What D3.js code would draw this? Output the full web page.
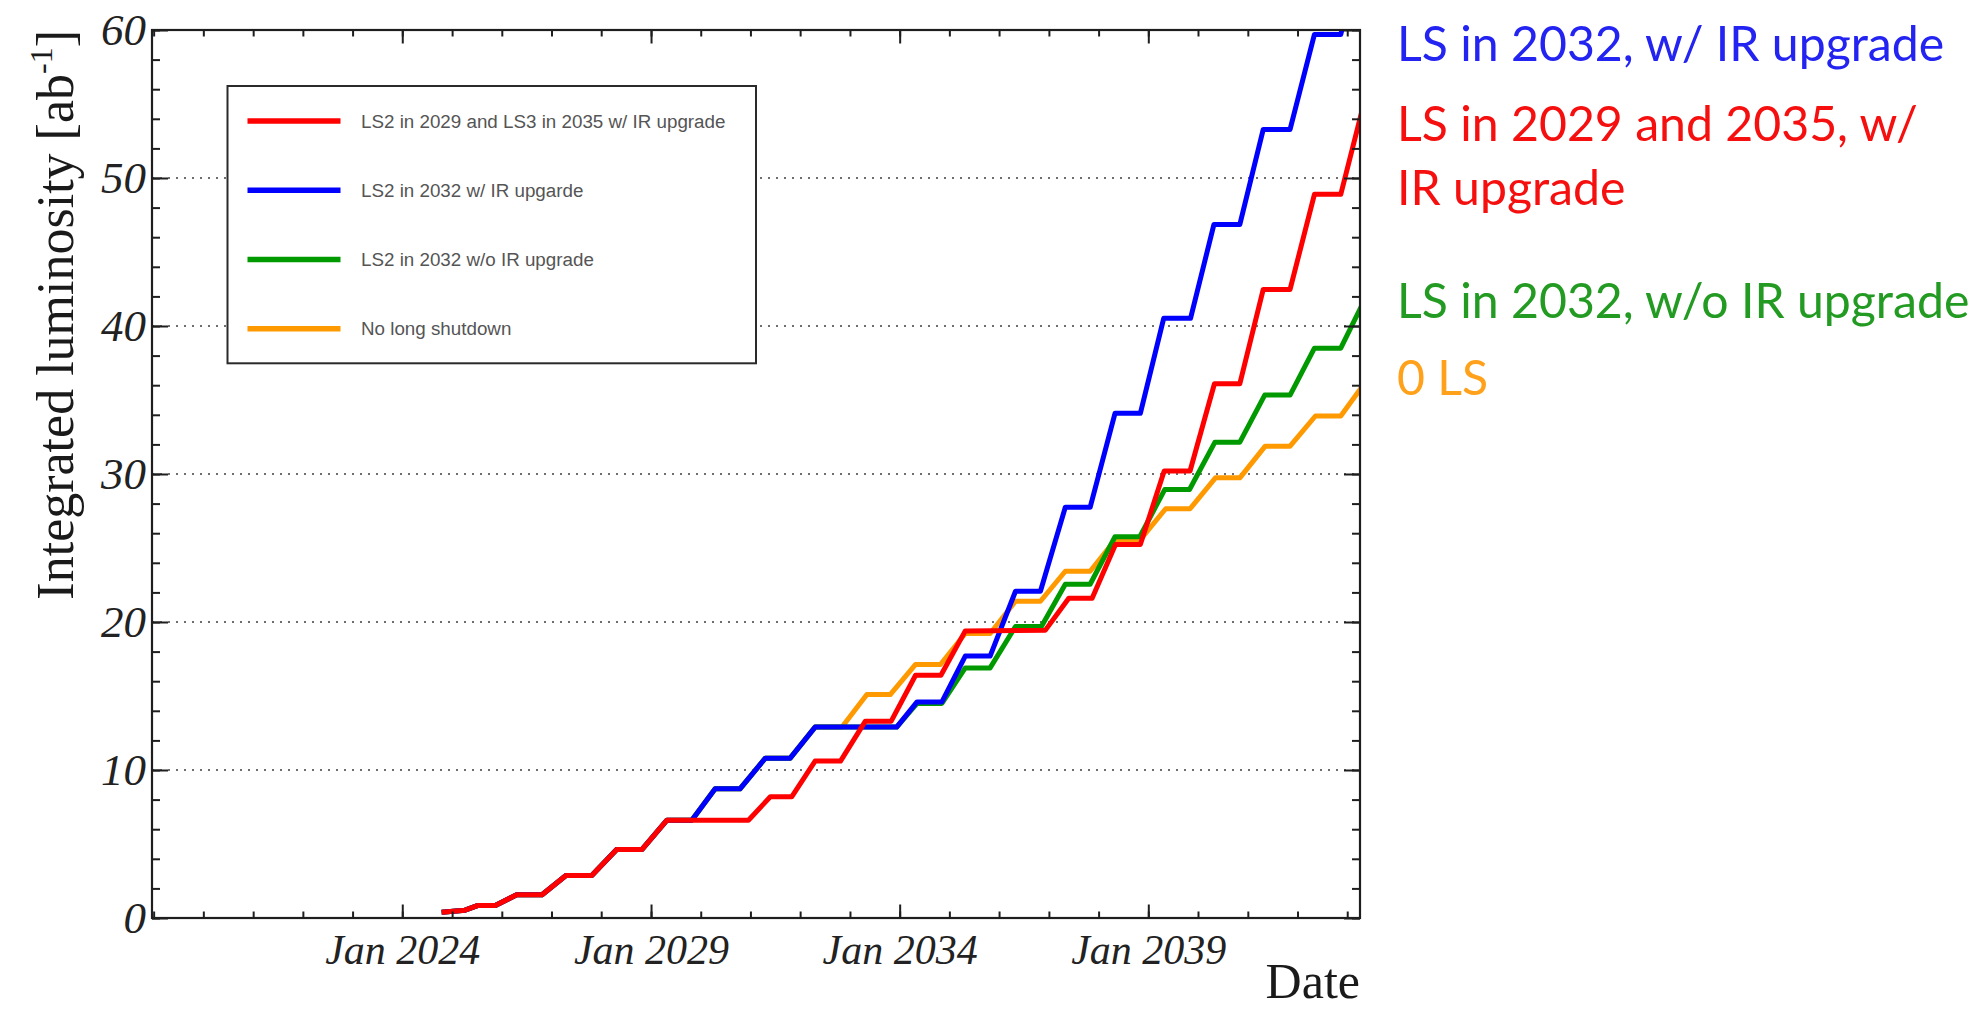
<!DOCTYPE html>
<html>
<head>
<meta charset="utf-8">
<script src="https://cdn.jsdelivr.net/npm/d3@7"></script>
<style>
  html, body { margin: 0; padding: 0; background: #fff; }
  svg { display: block; }
</style>
</head>
<body>
<svg id="chart" width="1982" height="1011"></svg>
<script>
// Integrated luminosity projections: corner points of each step curve,
// given as [decimal year, integrated luminosity in ab^-1].
const lsIn2029And2035 = [
  [2024.79, 0.39], [2025.26, 0.53], [2025.51, 0.84], [2025.87, 0.84],
  [2026.30, 1.57], [2026.81, 1.57], [2027.29, 2.87], [2027.81, 2.87],
  [2028.31, 4.63], [2028.82, 4.63], [2029.32, 6.61], [2030.96, 6.61],
  [2031.40, 8.19], [2031.83, 8.19], [2032.30, 10.6], [2032.81, 10.6],
  [2033.31, 13.3], [2033.83, 13.3], [2034.32, 16.4], [2034.83, 16.4],
  [2035.32, 19.4], [2036.93, 19.45], [2037.40, 21.6], [2037.87, 21.6],
  [2038.34, 25.24], [2038.84, 25.24], [2039.32, 30.2], [2039.84, 30.2],
  [2040.33, 36.1], [2040.84, 36.1], [2041.31, 42.47], [2041.85, 42.47],
  [2042.34, 48.9], [2042.87, 48.9], [2043.34, 55.1]
];

const lsIn2032WithIR = [
  [2024.79, 0.39], [2025.26, 0.53], [2025.51, 0.84], [2025.87, 0.84],
  [2026.30, 1.57], [2026.81, 1.57], [2027.29, 2.87], [2027.81, 2.87],
  [2028.31, 4.63], [2028.82, 4.63], [2029.32, 6.61], [2029.82, 6.61],
  [2030.29, 8.73], [2030.79, 8.73], [2031.30, 10.8], [2031.80, 10.8],
  [2032.30, 12.9], [2033.94, 12.9], [2034.35, 14.6], [2034.85, 14.6],
  [2035.32, 17.7], [2035.82, 17.7], [2036.33, 22.08], [2036.83, 22.08],
  [2037.33, 27.75], [2037.83, 27.75], [2038.33, 34.1], [2038.84, 34.1],
  [2039.31, 40.52], [2039.85, 40.52], [2040.32, 46.86], [2040.84, 46.86],
  [2041.31, 53.28], [2041.85, 53.28], [2042.34, 59.7], [2042.87, 59.7],
  [2043.34, 66.2]
];

const lsIn2032NoIR = [
  [2024.79, 0.39], [2025.26, 0.53], [2025.51, 0.84], [2025.87, 0.84],
  [2026.30, 1.57], [2026.81, 1.57], [2027.29, 2.87], [2027.81, 2.87],
  [2028.31, 4.63], [2028.82, 4.63], [2029.32, 6.61], [2029.82, 6.61],
  [2030.29, 8.73], [2030.79, 8.73], [2031.30, 10.8], [2031.80, 10.8],
  [2032.30, 12.9], [2033.94, 12.9], [2034.35, 14.5], [2034.85, 14.5],
  [2035.32, 16.9], [2035.82, 16.9], [2036.33, 19.7], [2036.85, 19.7],
  [2037.33, 22.55], [2037.83, 22.55], [2038.33, 25.76], [2038.83, 25.76],
  [2039.33, 28.95], [2039.83, 28.95], [2040.34, 32.15], [2040.84, 32.15],
  [2041.34, 35.33], [2041.85, 35.33], [2042.34, 38.5], [2042.87, 38.5],
  [2043.34, 41.7]
];

const noLongShutdown = [
  [2024.79, 0.39], [2025.26, 0.53], [2025.51, 0.84], [2025.87, 0.84],
  [2026.30, 1.57], [2026.81, 1.57], [2027.29, 2.87], [2027.81, 2.87],
  [2028.31, 4.63], [2028.82, 4.63], [2029.32, 6.61], [2029.82, 6.61],
  [2030.29, 8.73], [2030.79, 8.73], [2031.30, 10.8], [2031.80, 10.8],
  [2032.30, 12.9], [2032.84, 12.9], [2033.34, 15.1], [2033.81, 15.1],
  [2034.32, 17.13], [2034.82, 17.13], [2035.32, 19.22], [2035.82, 19.22],
  [2036.33, 21.4], [2036.83, 21.4], [2037.33, 23.43], [2037.83, 23.43],
  [2038.34, 25.57], [2038.84, 25.57], [2039.35, 27.65], [2039.84, 27.65],
  [2040.35, 29.74], [2040.84, 29.74], [2041.35, 31.88], [2041.85, 31.88],
  [2042.36, 33.92], [2042.87, 33.92], [2043.34, 36.1]
];

// Legend entries (legend order) and the scenario each one describes
const legendLabels = [
  "LS2 in 2029 and LS3 in 2035 w/ IR upgrade",
  "LS2 in 2032 w/ IR upgarde",
  "LS2 in 2032 w/o IR upgrade",
  "No long shutdown"
];
const seriesData = [lsIn2029And2035, lsIn2032WithIR, lsIn2032NoIR, noLongShutdown];
const seriesColors = ["#ff0000", "#0000ff", "#009a00", "#ff9900"];

// Annotations to the right of the frame
const sideLabels = [
  { lines: ["LS in 2032, w/ IR upgrade"], color: "#2323f2" },
  { lines: ["LS in 2029 and 2035, w/", "IR upgrade"], color: "#f50f0f" },
  { lines: ["LS in 2032, w/o IR upgrade"], color: "#239b23" },
  { lines: ["0 LS"], color: "#ffa11a" }
];

// Axis ticks
const labelledYears = [2024, 2029, 2034, 2039];
const yMajorTicks = [0, 10, 20, 30, 40, 50, 60];
const yGridValues = [10, 20, 30, 40, 50];

// ---------------------------------------------------------------------
const svg = d3.select("#chart");
const frame = { left: 152, right: 1360, top: 30, bottom: 918 };

function yearToDate(y) {
  const yr = Math.floor(y);
  const start = Date.UTC(yr, 0, 1), end = Date.UTC(yr + 1, 0, 1);
  return new Date(start + (y - yr) * (end - start));
}

const x = d3.scaleUtc()
  .domain([yearToDate(2018.967), yearToDate(2043.257)])
  .range([frame.left, frame.right]);
const y = d3.scaleLinear().domain([0, 60]).range([frame.bottom, frame.top]);

const axisColor = "#1e1e1e";
const tickFont = "'Liberation Serif', 'Times New Roman', serif";

// dotted horizontal grid
svg.append("g").selectAll("line").data(yGridValues).join("line")
  .attr("x1", frame.left).attr("x2", frame.right)
  .attr("y1", d => y(d)).attr("y2", d => y(d))
  .attr("stroke", "#6e6e6e").attr("stroke-width", 2)
  .attr("stroke-dasharray", "2,6");

// clip for the curves
svg.append("defs").append("clipPath").attr("id", "plotClip")
  .append("rect")
  .attr("x", frame.left).attr("y", frame.top)
  .attr("width", frame.right - frame.left).attr("height", frame.bottom - frame.top);

const line = d3.line()
  .x(d => x(yearToDate(d[0])))
  .y(d => y(d[1]));

// drawn so that the red curve ends up on top, orange at the bottom
const drawOrder = [3, 2, 1, 0];
svg.append("g").attr("clip-path", "url(#plotClip)")
  .selectAll("path").data(drawOrder).join("path")
  .attr("d", i => line(seriesData[i]))
  .attr("fill", "none")
  .attr("stroke", i => seriesColors[i])
  .attr("stroke-width", 5)
  .attr("stroke-linejoin", "round");

// ---- axes ----
const yearTicks = d3.utcYear.range(yearToDate(2019), yearToDate(2043.3));
const labelTicks = labelledYears.map(yearToDate);

function styleAxis(g) {
  g.selectAll(".domain").remove();
  g.selectAll(".tick line").attr("stroke", axisColor).attr("stroke-width", 2);
}

// bottom minor + major
svg.append("g").attr("transform", `translate(0,${frame.bottom})`)
  .call(d3.axisBottom(x).tickValues(yearTicks).tickSize(-6.5).tickFormat(""))
  .call(styleAxis);
const xMajor = svg.append("g").attr("transform", `translate(0,${frame.bottom})`)
  .call(d3.axisBottom(x).tickValues(labelTicks).tickSize(-13.5).tickPadding(16)
    .tickFormat(d3.utcFormat("%b %Y")))
  .call(styleAxis);
xMajor.selectAll("text")
  .attr("font-family", tickFont).attr("font-style", "italic")
  .attr("font-size", 42).attr("fill", "#222");

// top mirrored ticks
svg.append("g").attr("transform", `translate(0,${frame.top})`)
  .call(d3.axisTop(x).tickValues(yearTicks).tickSize(-6.5).tickFormat(""))
  .call(styleAxis);
svg.append("g").attr("transform", `translate(0,${frame.top})`)
  .call(d3.axisTop(x).tickValues(labelTicks).tickSize(-13.5).tickFormat(""))
  .call(styleAxis);

// left axis
const yMinor = d3.range(0, 61, 2);
svg.append("g").attr("transform", `translate(${frame.left},0)`)
  .call(d3.axisLeft(y).tickValues(yMinor).tickSize(-8).tickFormat(""))
  .call(styleAxis);
const yMajor = svg.append("g").attr("transform", `translate(${frame.left},0)`)
  .call(d3.axisLeft(y).tickValues(yMajorTicks).tickSize(-16).tickPadding(6)
    .tickFormat(d3.format("d")))
  .call(styleAxis);
yMajor.selectAll("text")
  .attr("font-family", tickFont).attr("font-style", "italic")
  .attr("font-size", 45).attr("fill", "#222");

// right mirrored ticks
svg.append("g").attr("transform", `translate(${frame.right},0)`)
  .call(d3.axisRight(y).tickValues(yMinor).tickSize(-8).tickFormat(""))
  .call(styleAxis);
svg.append("g").attr("transform", `translate(${frame.right},0)`)
  .call(d3.axisRight(y).tickValues(yMajorTicks).tickSize(-16).tickFormat(""))
  .call(styleAxis);

// frame
svg.append("rect")
  .attr("x", frame.left).attr("y", frame.top)
  .attr("width", frame.right - frame.left).attr("height", frame.bottom - frame.top)
  .attr("fill", "none").attr("stroke", axisColor).attr("stroke-width", 2.2);

// axis titles
svg.append("text")
  .attr("x", frame.right).attr("y", 998)
  .attr("text-anchor", "end")
  .attr("font-family", tickFont).attr("font-size", 50).attr("fill", "#1a1a1a")
  .text("Date");

const yTitle = svg.append("text")
  .attr("transform", `translate(73,${frame.top}) rotate(-90)`)
  .attr("text-anchor", "end")
  .attr("font-family", tickFont).attr("font-size", 52).attr("fill", "#1a1a1a");
yTitle.append("tspan").text("Integrated luminosity [ab");
yTitle.append("tspan").attr("dy", -21).attr("font-size", 32).text("-1");
yTitle.append("tspan").attr("dy", 21).text("]");

// ---- legend ----
const legend = { x0: 227.5, y0: 86, x1: 756, y1: 363.3 };
svg.append("rect")
  .attr("x", legend.x0).attr("y", legend.y0)
  .attr("width", legend.x1 - legend.x0).attr("height", legend.y1 - legend.y0)
  .attr("fill", "#fff").attr("stroke", "#2a2a2a").attr("stroke-width", 2);

const legendRow = d3.scalePoint().domain(d3.range(legendLabels.length))
  .range([121, 328.7]);
const legendItems = svg.append("g").selectAll("g")
  .data(legendLabels).join("g")
  .attr("transform", (d, i) => `translate(0,${legendRow(i)})`);
legendItems.append("line")
  .attr("x1", 247.5).attr("x2", 340.5)
  .attr("stroke", (d, i) => seriesColors[i]).attr("stroke-width", 5.5);
legendItems.append("text")
  .attr("x", 361).attr("dy", "0.36em")
  .attr("font-family", "'Liberation Sans', Arial, sans-serif")
  .attr("font-size", 18.8).attr("fill", "#555")
  .text(d => d);

// ---- side annotations ----
const sideBaselines = [[61], [141, 205], [318], [395]];
const sideFont = "Lato, 'Open Sans', sans-serif";
sideLabels.forEach((lab, i) => {
  lab.lines.forEach((txt, j) => {
    svg.append("text")
      .attr("x", 1397).attr("y", sideBaselines[i][j])
      .attr("font-family", sideFont).attr("font-size", 48.2)
      .attr("fill", lab.color)
      .text(txt);
  });
});
</script>
</body>
</html>
